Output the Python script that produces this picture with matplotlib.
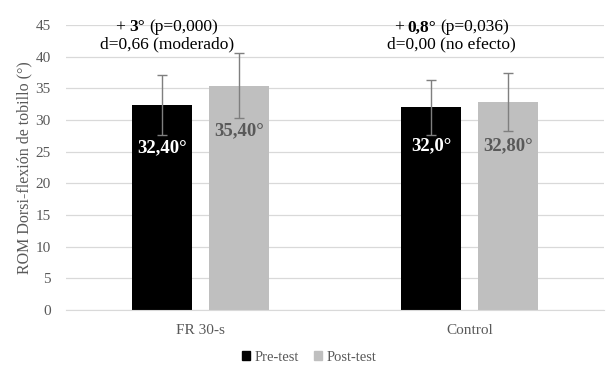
import matplotlib
matplotlib.use("Agg")
import matplotlib.pyplot as plt
import numpy as np
from matplotlib.patches import Patch
from matplotlib.offsetbox import TextArea, HPacker, AnnotationBbox

plt.rcParams['font.family'] = ['Liberation Serif', 'DejaVu Serif']

# datos
grupos = ['FR 30-s', 'Control']
pre = [32.4, 32.0]
post = [35.4, 32.8]
pre_sd = [4.75, 4.35]
post_sd = [5.15, 4.55]
pre_txt = ['32,40°', '32,0°']
post_txt = ['35,40°', '32,80°']
dif_txt = ['3°', '0,8°']
p_txt = ['(p=0,000)', '(p=0,036)']
d_txt = ['d=0,66 (moderado)', 'd=0,00 (no efecto)']

gris = '#595959'
negro = '#000000'
claro = '#bfbfbf'

fig = plt.figure(figsize=(6.06, 3.67), dpi=100)
ax = fig.add_axes([0.109, 0.155, 0.888, 0.777])

x = np.arange(len(grupos))
w = 0.223
off = 0.143
ax.bar(x - off, pre, w, color=negro, zorder=2)
ax.bar(x + off, post, w, color=claro, zorder=2)
ax.errorbar(x - off, pre, yerr=pre_sd, fmt='none', ecolor='#7f7f7f',
            elinewidth=1, capsize=3.5, capthick=1, zorder=3)
ax.errorbar(x + off, post, yerr=post_sd, fmt='none', ecolor='#7f7f7f',
            elinewidth=1, capsize=3.5, capthick=1, zorder=3)

# etiquetas dentro de las barras
label_y_pre = [25.6, 26.0]
label_y_post = [28.3, 26.0]
for i in range(len(grupos)):
    ax.text(x[i] - off, label_y_pre[i], pre_txt[i], color='white', fontsize=13.5,
            fontweight='bold', ha='center', va='center', zorder=4)
    ax.text(x[i] + off, label_y_post[i], post_txt[i], color=gris, fontsize=13.5,
            fontweight='bold', ha='center', va='center', zorder=4)

# anotaciones de diferencia
ann_x = [-0.126, -0.067]
for i in range(len(grupos)):
    parts = [TextArea('+', textprops=dict(fontsize=12.5, color='black')),
             TextArea(dif_txt[i], textprops=dict(fontsize=12.5, color='black', fontweight='bold')),
             TextArea(p_txt[i], textprops=dict(fontsize=12.5, color='black'))]
    box = HPacker(children=parts, align='baseline', pad=0, sep=3)
    ab = AnnotationBbox(box, (x[i] + ann_x[i], 44.6), frameon=False,
                        box_alignment=(0.5, 0.5), zorder=5, annotation_clip=False)
    ax.add_artist(ab)
    ax.text(x[i] + ann_x[i], 42.0, d_txt[i], fontsize=12.5, color='black',
            ha='center', va='center', zorder=5)

ax.set_xlim(-0.5, 1.5)
ax.set_ylim(0, 45)
ax.set_yticks(np.arange(0, 50, 5))
ax.set_xticks(x)
ax.set_xticklabels(grupos)
ax.tick_params(axis='both', length=0, colors=gris, labelsize=11)
ax.tick_params(axis='x', pad=10)
ax.tick_params(axis='y', pad=11)
ax.yaxis.grid(True, color='#d9d9d9', linewidth=0.9, zorder=0)
ax.set_axisbelow(True)
for s in ['top', 'right', 'left']:
    ax.spines[s].set_visible(False)
ax.spines['bottom'].set_color('#d9d9d9')
ax.set_ylabel('ROM Dorsi-flexión de tobillo (°)', color=gris, fontsize=11.5, labelpad=2)

handles = [Patch(color=negro, label='Pre-test'), Patch(color=claro, label='Post-test')]
leg = fig.legend(handles=handles, loc='center', bbox_to_anchor=(0.51, 0.027), ncol=2,
                 frameon=False, fontsize=10.5, handlelength=0.6, handleheight=0.6,
                 handletextpad=0.3, columnspacing=1.0)
for t in leg.get_texts():
    t.set_color(gris)

fig.savefig('out.png', dpi=100)
